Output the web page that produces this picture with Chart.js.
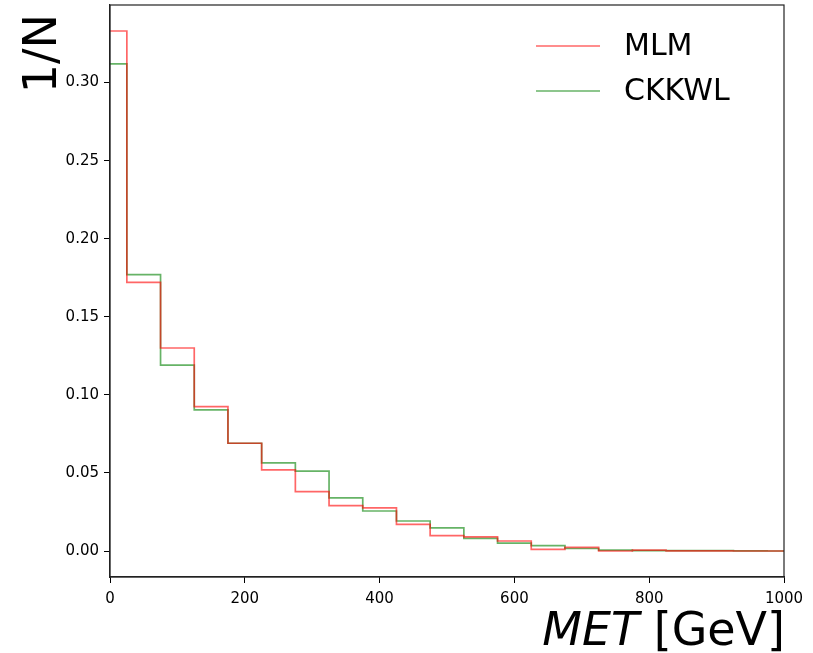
<!DOCTYPE html>
<html>
<head>
<meta charset="utf-8">
<script src="https://cdn.jsdelivr.net/npm/chart.js@4.4.1/dist/chart.umd.min.js"></script>
<style>
    html, body { margin: 0; padding: 0; background: #fff; }
    #wrap { width: 813px; height: 653px; }
</style>
</head>
<body>
<div id="wrap"><canvas id="metChart" width="813" height="653"></canvas></div>
<script>
// bin left edges (first bin clipped at 0), last edge closes the histogram
var binEdges = [0, 25, 75, 125, 175, 225, 275, 325, 375, 425, 475, 525, 575, 625, 675, 725, 775, 825, 875, 925, 975, 1000];
var mlmValues = [0.333, 0.172, 0.130, 0.0925, 0.069, 0.052, 0.038, 0.029, 0.0276, 0.0170, 0.0098, 0.0090, 0.0064, 0.0011, 0.0023, 0.0000, 0.0005, 0.0001, 0.0001, 0.0000, 0.0000];
var ckkwlValues = [0.312, 0.177, 0.119, 0.0904, 0.069, 0.0564, 0.0511, 0.034, 0.0256, 0.0192, 0.0148, 0.0081, 0.0051, 0.0034, 0.0016, 0.0005, 0.0002, 0.0003, 0.0003, 0.0001, 0.0000];
var seriesNames = ["MLM", "CKKWL"];
var xTitle = "[GeV]";
var xTitleItalic = "MET";
var yTitle = "1/N";

function histPoints(values) {
    var pts = [];
    for (var i = 0; i < values.length; i++) {
        pts.push({x: binEdges[i], y: values[i]});
    }
    pts.push({x: binEdges[binEdges.length - 1], y: values[values.length - 1]});
    return pts;
}

var FONT = "'DejaVu Sans', sans-serif";
var colors = ["rgba(255, 0, 0, 0.6)", "rgba(0, 128, 0, 0.6)"];

var decor = {
    id: 'decor',
    afterDraw: function (chart) {
        var ctx = chart.ctx;
        var a = chart.chartArea;
        ctx.save();
        // frame
        ctx.strokeStyle = '#222';
        ctx.lineWidth = 1.2;
        ctx.strokeRect(a.left, a.top, a.right - a.left, a.bottom - a.top);

        // legend
        var ds = chart.data.datasets;
        ctx.font = "30px " + FONT;
        ctx.textBaseline = 'middle';
        ctx.textAlign = 'left';
        for (var i = 0; i < ds.length; i++) {
            var y = 46 + i * 45;
            ctx.strokeStyle = ds[i].borderColor;
            ctx.lineWidth = 1.5;
            ctx.beginPath();
            ctx.moveTo(536, y);
            ctx.lineTo(600, y);
            ctx.stroke();
            ctx.fillStyle = '#000';
            ctx.fillText(ds[i].label, 624, y + 1);
        }

        // x title, right aligned with the plot
        ctx.fillStyle = '#000';
        ctx.textBaseline = 'alphabetic';
        ctx.font = "46px " + FONT;
        var restW = ctx.measureText(" " + xTitle).width;
        ctx.textAlign = 'right';
        ctx.fillText(" " + xTitle, a.right + 1, 645);
        ctx.font = "oblique 46px " + FONT;
        ctx.fillText(xTitleItalic, a.right + 1 - restW, 645);

        // y title, top aligned
        ctx.translate(56, a.top + 9);
        ctx.rotate(-Math.PI / 2);
        ctx.font = "46px " + FONT;
        ctx.textAlign = 'right';
        ctx.fillText(yTitle, 0, 0);
        ctx.restore();
    }
};

new Chart(document.getElementById('metChart'), {
    type: 'line',
    data: {
        datasets: [
            {label: seriesNames[0], data: histPoints(mlmValues), borderColor: colors[0], borderWidth: 1.7, stepped: true, pointRadius: 0, fill: false},
            {label: seriesNames[1], data: histPoints(ckkwlValues), borderColor: colors[1], borderWidth: 1.7, stepped: true, pointRadius: 0, fill: false}
        ]
    },
    options: {
        responsive: false,
        animation: false,
        layout: {padding: {left: 0, top: 5, right: 29, bottom: 0}},
        plugins: {legend: {display: false}, tooltip: {enabled: false}},
        scales: {
            x: {
                type: 'linear',
                min: 0,
                max: 1000,
                afterFit: function (scale) { scale.height = 76; },
                grid: {display: true, drawOnChartArea: false, drawTicks: true, tickLength: 6, color: '#000'},
                border: {display: true, color: '#222', width: 1.2},
                ticks: {
                    stepSize: 200,
                    color: '#000',
                    padding: 7,
                    font: {family: FONT, size: 15},
                    maxRotation: 0,
                    callback: function (v) { return String(v); }
                }
            },
            y: {
                type: 'linear',
                min: -0.01665,
                max: 0.34965,
                afterFit: function (scale) {
                    scale.width = 110;
                    scale.paddingTop = 0;
                    scale.paddingBottom = 0;
                },
                grid: {display: true, drawOnChartArea: false, drawTicks: true, tickLength: 6, color: '#000'},
                border: {display: true, color: '#222', width: 1.2},
                ticks: {
                    stepSize: 0.05,
                    includeBounds: false,
                    color: '#000',
                    padding: 5,
                    font: {family: FONT, size: 15},
                    callback: function (v) { return v.toFixed(2); }
                }
            }
        }
    },
    plugins: [decor]
});
</script>
</body>
</html>
